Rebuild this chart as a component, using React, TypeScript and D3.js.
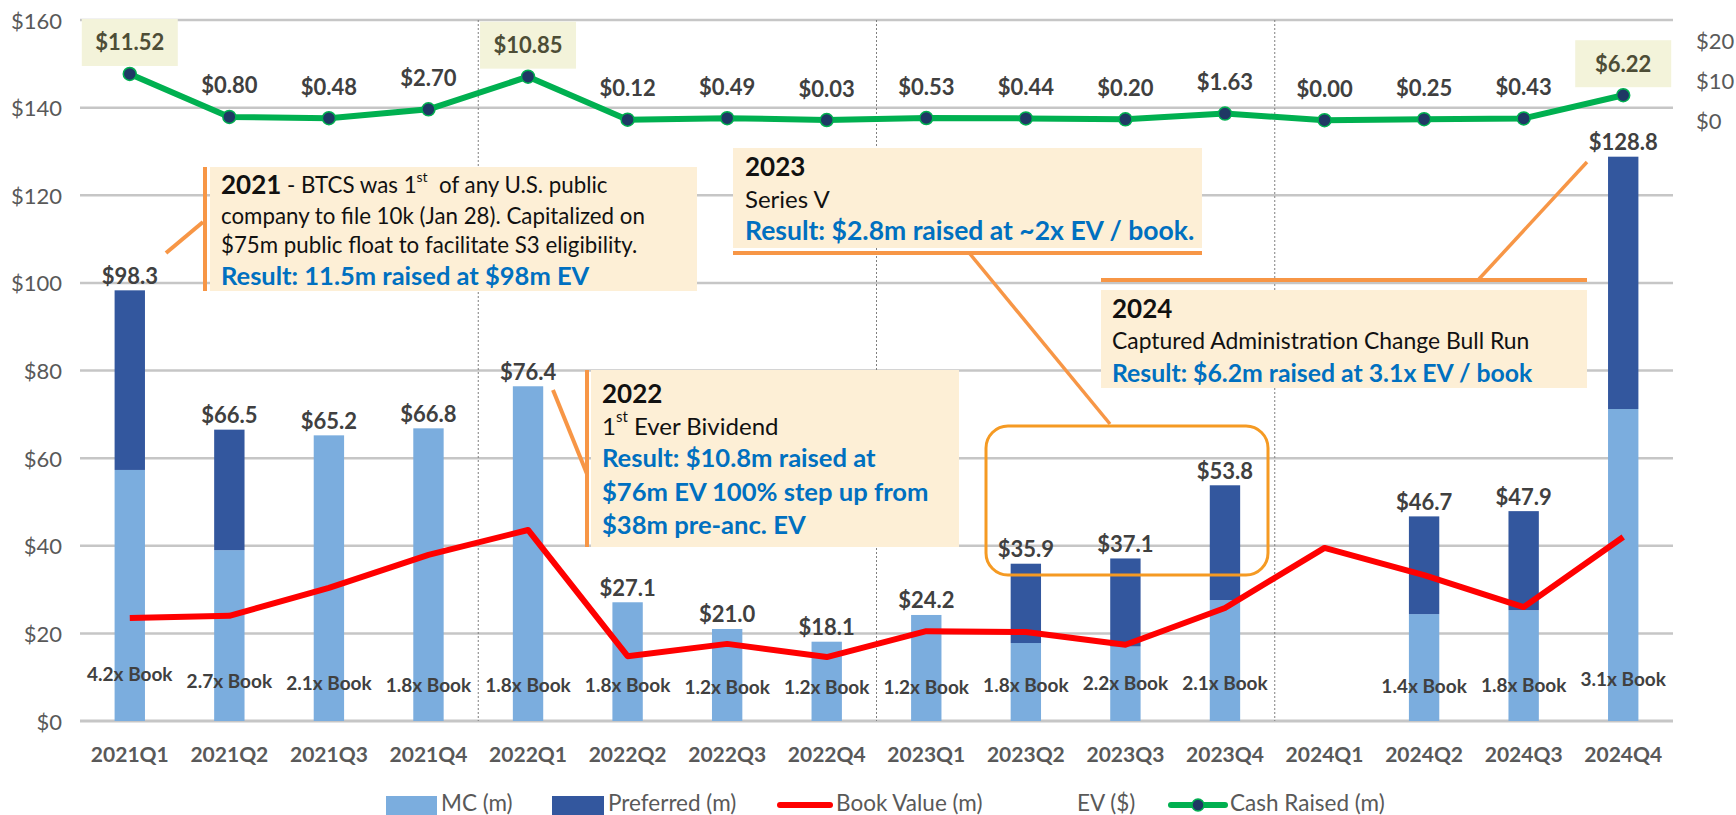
import React from 'react';
import * as d3 from 'd3';

const categories = ['2021Q1','2021Q2','2021Q3','2021Q4','2022Q1','2022Q2','2022Q3','2022Q4','2023Q1','2023Q2','2023Q3','2023Q4','2024Q1','2024Q2','2024Q3','2024Q4'];
const evTotals: (number | null)[] = [98.3, 66.5, 65.2, 66.8, 76.4, 27.1, 21.0, 18.1, 24.2, 35.9, 37.1, 53.8, null, 46.7, 47.9, 128.8];
const mcValues: (number | null)[] = [57.3, 39.0, 65.2, 66.8, 76.4, 27.1, 21.0, 18.1, 24.2, 17.8, 17.0, 27.6, null, 24.4, 25.3, 71.2];
const bookValues = [23.5, 24.0, 30.4, 37.9, 43.6, 14.8, 17.6, 14.6, 20.5, 20.3, 17.4, 25.8, 39.5, 33.3, 26.0, 42.0];
const cashRaised = [11.52, 0.80, 0.48, 2.70, 10.85, 0.12, 0.49, 0.03, 0.53, 0.44, 0.20, 1.63, 0.00, 0.25, 0.43, 6.22];
const evMultiples: (number | null)[] = [4.2, 2.7, 2.1, 1.8, 1.8, 1.8, 1.2, 1.2, 1.2, 1.8, 2.2, 2.1, null, 1.4, 1.8, 3.1];
const highlightedCash = ['2021Q1', '2022Q1', '2024Q4'];
const leftTicks = [0, 20, 40, 60, 80, 100, 120, 140, 160];
const rightTicks = [0, 10, 20];

const W = 1736, H = 815;
const FONT = 'Lato, "Open Sans", sans-serif';
const C_MC = '#7badde';
const C_PREF = '#33579e';
const C_BOOK = '#ff0000';
const C_CASH = '#00b050';
const C_MARK = '#1f3864';
const C_GRID = '#c6c6c6';
const C_AX = '#595959';
const C_LBL = '#404040';
const C_BOX = '#fdefd6';
const C_ORANGE = '#f79646';
const C_BLUE = '#0070c0';

export default function App() {
  const x = d3.scaleBand<string>().domain(categories).range([80, 1673]).padding(0);
  const yL = d3.scaleLinear().domain([0, 160]).range([721, 20]);
  const yR = d3.scaleLinear().domain([-150, 25]).range([721, 20]);
  const bw = x.bandwidth() * 0.305;
  const cx = (c: string) => (x(c) as number) + x.bandwidth() / 2;

  const bookLine = d3.line<number>().x((_, i) => cx(categories[i])).y(d => yL(d));
  const cashLine = d3.line<number>().x((_, i) => cx(categories[i])).y(d => yR(d));

  const separators = categories.filter((_, i) => i > 0 && i % 4 === 0).map(c => x(c) as number);

  return (
    <div>
      <style>{'body{margin:0;overflow:hidden;}'}</style>
      <svg width={W} height={H} style={{ display: 'block', fontFamily: FONT }}>
        <rect width={W} height={H} fill="#ffffff" />
        {/* gridlines */}
        {leftTicks.map(t => (
          <line key={'g' + t} x1={80} x2={1673} y1={yL(t)} y2={yL(t)} stroke={C_GRID} strokeWidth={t === 0 ? 3 : 2.5} />
        ))}
        {leftTicks.map(t => (
          <text key={'l' + t} x={62} y={yL(t)} textAnchor="end" dominantBaseline="central" fontSize={22} fill={C_AX}>{'$' + t}</text>
        ))}
        {rightTicks.map(t => (
          <text key={'r' + t} x={1696} y={yR(t)} textAnchor="start" dominantBaseline="central" fontSize={22} fill={C_AX}>{'$' + t}</text>
        ))}
        {separators.map((sx, i) => (
          <line key={'s' + i} x1={sx} x2={sx} y1={20} y2={721} stroke="#7f7f7f" strokeWidth={1} strokeDasharray="2,2" />
        ))}

        {/* bars */}
        {categories.map((c, i) => {
          const mc = mcValues[i];
          const tot = evTotals[i];
          if (mc == null || tot == null) return null;
          const pref = tot - mc;
          return (
            <g key={'b' + c}>
              <rect x={cx(c) - bw / 2} y={yL(mc)} width={bw} height={yL(0) - yL(mc)} fill={C_MC} />
              {pref > 0.05 && (
                <rect x={cx(c) - bw / 2} y={yL(tot)} width={bw} height={yL(mc) - yL(tot)} fill={C_PREF} />
              )}
            </g>
          );
        })}

        {/* annotation 2021 */}
        <g>
          <rect x={210} y={167} width={487} height={124} fill={C_BOX} />
          <line x1={205} x2={205} y1={167} y2={291} stroke={C_ORANGE} strokeWidth={4} />
          <line x1={166} x2={203} y1={253} y2={222} stroke={C_ORANGE} strokeWidth={4} />
          <text x={221} y={184} dominantBaseline="central" fontSize={22.3} fill="#111">
            <tspan fontWeight="bold" fontSize={26}>2021</tspan>
            <tspan> - BTCS was 1</tspan>
            <tspan fontSize={14} dy={-8}>st</tspan>
            <tspan dy={8}>{'\u00a0 of any U.S. public'}</tspan>
          </text>
          <text x={221} y={215} dominantBaseline="central" fontSize={22.3} fill="#111">company to file 10k (Jan 28). Capitalized on</text>
          <text x={221} y={244} dominantBaseline="central" fontSize={22.3} fill="#111">$75m public float to facilitate S3 eligibility.</text>
          <text x={221} y={275} dominantBaseline="central" fontSize={25.5} fontWeight="bold" fill={C_BLUE}>Result: 11.5m raised at $98m EV</text>
        </g>

        {/* annotation 2022 */}
        <g>
          <rect x={591} y={370} width={368} height={177} fill={C_BOX} />
          <line x1={587} x2={587} y1={370} y2={547} stroke={C_ORANGE} strokeWidth={4} />
          <line x1={553} x2={587} y1={390} y2={474} stroke={C_ORANGE} strokeWidth={4} />
          <text x={602} y={393} dominantBaseline="central" fontSize={26} fontWeight="bold" fill="#111">2022</text>
          <text x={602} y={425} dominantBaseline="central" fontSize={24} fill="#111">
            <tspan>1</tspan>
            <tspan fontSize={15} dy={-9}>st</tspan>
            <tspan dy={9}> Ever Bividend</tspan>
          </text>
          <text x={602} y={457} dominantBaseline="central" fontSize={25.6} fontWeight="bold" fill={C_BLUE}>Result: $10.8m raised at</text>
          <text x={602} y={491} dominantBaseline="central" fontSize={25.6} fontWeight="bold" fill={C_BLUE}>$76m EV 100% step up from</text>
          <text x={602} y={524} dominantBaseline="central" fontSize={25.6} fontWeight="bold" fill={C_BLUE}>$38m pre-anc. EV</text>
        </g>

        {/* annotation 2023 */}
        <g>
          <rect x={733} y={148} width={469} height={100} fill={C_BOX} />
          <line x1={733} x2={1202} y1={253} y2={253} stroke={C_ORANGE} strokeWidth={4} />
          <line x1={970} x2={1110} y1={254} y2={424} stroke={C_ORANGE} strokeWidth={3.5} />
          <text x={745} y={166} dominantBaseline="central" fontSize={26} fontWeight="bold" fill="#111">2023</text>
          <text x={745} y={198} dominantBaseline="central" fontSize={24} fill="#111">Series V</text>
          <text x={745} y={230} dominantBaseline="central" fontSize={26.5} fontWeight="bold" fill={C_BLUE}>Result: $2.8m raised at ~2x EV / book.</text>
        </g>
        <rect x={986} y={426} width={282} height={149} rx={22} ry={22} fill="none" stroke="#f59a23" strokeWidth={3} />

        {/* annotation 2024 */}
        <g>
          <rect x={1101} y={290} width={486} height={98} fill={C_BOX} />
          <line x1={1101} x2={1587} y1={280} y2={280} stroke={C_ORANGE} strokeWidth={4} />
          <line x1={1479} x2={1587} y1={279} y2={162} stroke={C_ORANGE} strokeWidth={3.5} />
          <text x={1112} y={308} dominantBaseline="central" fontSize={26} fontWeight="bold" fill="#111">2024</text>
          <text x={1112} y={340} dominantBaseline="central" fontSize={22.9} fill="#111">Captured Administration Change Bull Run</text>
          <text x={1112} y={372} dominantBaseline="central" fontSize={24.8} fontWeight="bold" fill={C_BLUE}>Result: $6.2m raised at 3.1x EV / book</text>
        </g>

        {/* book value line */}
        <path d={bookLine(bookValues) || ''} fill="none" stroke={C_BOOK} strokeWidth={6} strokeLinejoin="round" />

        {/* bar total labels */}
        {categories.map((c, i) => {
          const tot = evTotals[i];
          if (tot == null) return null;
          return (
            <text key={'t' + c} x={cx(c)} y={yL(tot) - 15} textAnchor="middle" dominantBaseline="central" fontSize={22} fontWeight="bold" fill={C_LBL}>{'$' + tot.toFixed(1)}</text>
          );
        })}

        {/* EV multiple labels */}
        {categories.map((c, i) => {
          const m = evMultiples[i];
          if (m == null) return null;
          return (
            <text key={'m' + c} x={cx(c)} y={yL(m) - 29} textAnchor="middle" dominantBaseline="central" fontSize={19} fontWeight="bold" fill={C_LBL}>{m.toFixed(1) + 'x Book'}</text>
          );
        })}

        {/* cash raised */}
        {categories.map((c, i) => highlightedCash.includes(c) ? (
          <rect key={'h' + c} x={cx(c) - 48} y={yR(cashRaised[i]) - 32 - 23} width={96} height={47} fill="#f3f3da" />
        ) : null)}
        <path d={cashLine(cashRaised) || ''} fill="none" stroke={C_CASH} strokeWidth={6} strokeLinejoin="round" />
        {categories.map((c, i) => (
          <circle key={'p' + c} cx={cx(c)} cy={yR(cashRaised[i])} r={6.5} fill={C_MARK} stroke={C_CASH} strokeWidth={1.5} />
        ))}
        {categories.map((c, i) => (
          <text key={'cl' + c} x={cx(c)} y={yR(cashRaised[i]) - 32} textAnchor="middle" dominantBaseline="central" fontSize={22} fontWeight="bold" fill={highlightedCash.includes(c) ? '#4d4d36' : C_LBL}>{'$' + cashRaised[i].toFixed(2)}</text>
        ))}

        {/* x axis labels */}
        {categories.map(c => (
          <text key={'x' + c} x={cx(c)} y={753} textAnchor="middle" dominantBaseline="central" fontSize={21} fontWeight="bold" fill={C_AX}>{c}</text>
        ))}

        {/* legend */}
        <g fontSize={22.5} fill={C_AX}>
          <rect x={386} y={796} width={51} height={19} fill={C_MC} />
          <text x={441} y={802} dominantBaseline="central">MC (m)</text>
          <rect x={552} y={796} width={52} height={19} fill={C_PREF} />
          <text x={608} y={802} dominantBaseline="central">Preferred (m)</text>
          <line x1={780} x2={830} y1={805} y2={805} stroke={C_BOOK} strokeWidth={6} strokeLinecap="round" />
          <text x={836} y={802} dominantBaseline="central">Book Value (m)</text>
          <text x={1077} y={802} dominantBaseline="central">EV ($)</text>
          <line x1={1171} x2={1225} y1={805} y2={805} stroke={C_CASH} strokeWidth={6} strokeLinecap="round" />
          <circle cx={1198} cy={805} r={6} fill={C_MARK} stroke={C_CASH} strokeWidth={1.5} />
          <text x={1230} y={802} dominantBaseline="central">Cash Raised (m)</text>
        </g>
      </svg>
    </div>
  );
}
